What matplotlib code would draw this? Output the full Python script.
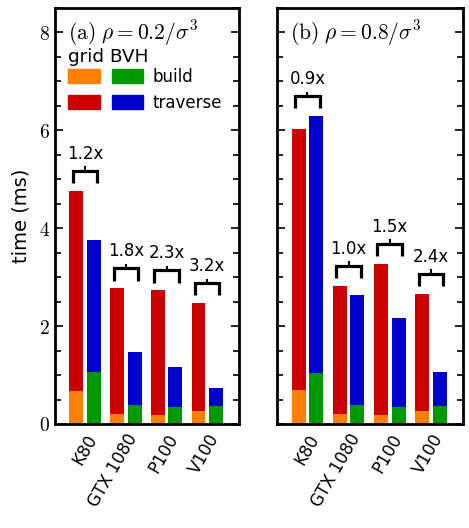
import matplotlib
matplotlib.use('Agg')
import matplotlib.pyplot as plt
from matplotlib.patches import Patch
from matplotlib.ticker import MultipleLocator, FuncFormatter
import numpy as np

plt.rcParams['mathtext.fontset'] = 'cm'
plt.rcParams['font.family'] = ['DejaVu Sans']

gpus = ['K80', 'GTX 1080', 'P100', 'V100']

# (a) rho = 0.2
grid_build_a = [0.67, 0.20, 0.18, 0.26]
grid_total_a = [4.76, 2.77, 2.73, 2.47]
bvh_build_a = [1.06, 0.39, 0.35, 0.37]
bvh_total_a = [3.76, 1.47, 1.17, 0.74]
speedup_a = ['1.2x', '1.8x', '2.3x', '3.2x']

# (b) rho = 0.8
grid_build_b = [0.69, 0.20, 0.18, 0.26]
grid_total_b = [6.02, 2.82, 3.27, 2.66]
bvh_build_b = [1.04, 0.39, 0.35, 0.37]
bvh_total_b = [6.29, 2.63, 2.16, 1.07]
speedup_b = ['0.9x', '1.0x', '1.5x', '2.4x']

orange = '#ff8000'
red = '#cc0000'
green = '#009900'
blue = '#0000cc'

fig = plt.figure(figsize=(4.69, 5.28), dpi=100)
ax_a = fig.add_axes([0.1173, 0.197, 0.3923, 0.788])
ax_b = fig.add_axes([0.5906, 0.197, 0.3966, 0.788])

width = 0.34
off = 0.215


def draw_panel(ax, gb, gt, bb, bt, speed, title):
    x = np.arange(len(gpus))
    gb, gt, bb, bt = map(np.array, (gb, gt, bb, bt))
    ax.bar(x - off, gb, width, color=orange, linewidth=0)
    ax.bar(x - off, gt - gb, width, bottom=gb, color=red, linewidth=0)
    ax.bar(x + off, bb, width, color=green, linewidth=0)
    ax.bar(x + off, bt - bb, width, bottom=bb, color=blue, linewidth=0)

    # speedup brackets above each pair
    for xi, top, lab in zip(x, np.maximum(gt, bt), speed):
        y0, y1 = top + 0.16, top + 0.41
        ax.plot([xi - 0.3, xi - 0.3, xi + 0.3, xi + 0.3], [y0, y1, y1, y0],
                color='k', lw=2.3, solid_joinstyle='miter', solid_capstyle='butt')
        ax.plot([xi, xi], [y1, y1 + 0.07], color='k', lw=1.5)
        ax.text(xi, top + 0.76, lab, ha='center', va='center', fontsize=12)

    ax.set_xlim(-0.74, 3.78)
    ax.set_ylim(0, 8.5)
    ax.set_xticks(x)
    ax.set_xticklabels(gpus, rotation=60, ha='right', rotation_mode='anchor',
                       fontsize=12)
    ax.tick_params(axis='x', length=0, pad=5)
    ax.yaxis.set_major_locator(MultipleLocator(2))
    ax.yaxis.set_minor_locator(MultipleLocator(0.5))
    ax.yaxis.set_major_formatter(FuncFormatter(lambda v, p: f'${v:g}$'))
    ax.tick_params(axis='y', which='both', direction='in', left=True, right=True,
                   labelsize=14, width=1.2)
    ax.tick_params(axis='y', which='major', length=5.5)
    ax.tick_params(axis='y', which='minor', length=4.3)
    for s in ax.spines.values():
        s.set_linewidth(2.0)
    ax.text(0.07, 0.94, title, transform=ax.transAxes, ha='left', va='center',
            fontsize=15.5)


draw_panel(ax_a, grid_build_a, grid_total_a, bvh_build_a, bvh_total_a, speedup_a,
           r'$\mathrm{(a)}\ \rho = 0.2/\sigma^3$')
draw_panel(ax_b, grid_build_b, grid_total_b, bvh_build_b, bvh_total_b, speedup_b,
           r'$\mathrm{(b)}\ \rho = 0.8/\sigma^3$')
ax_b.tick_params(axis='y', labelleft=False)

ax_a.set_ylabel('time (ms)', fontsize=14, labelpad=6)

# legend: header text, then two columns of swatches (grid | BVH)
ax_a.text(0.07, (424 - 57) / 416, 'grid BVH', transform=ax_a.transAxes,
          ha='left', va='center', fontsize=13.3)
handles = [Patch(color=orange), Patch(color=red), Patch(color=green), Patch(color=blue)]
labels = ['', '', 'build', 'traverse']
leg = ax_a.legend(handles, labels, ncol=2, fontsize=12, frameon=False,
                  loc='upper left', bbox_to_anchor=(0.07, (424 - 68) / 416),
                  borderpad=0, borderaxespad=0,
                  handlelength=1.9, handleheight=0.9, handletextpad=0.55,
                  columnspacing=0.17, labelspacing=0.48)

fig.savefig('out.png', dpi=100)
